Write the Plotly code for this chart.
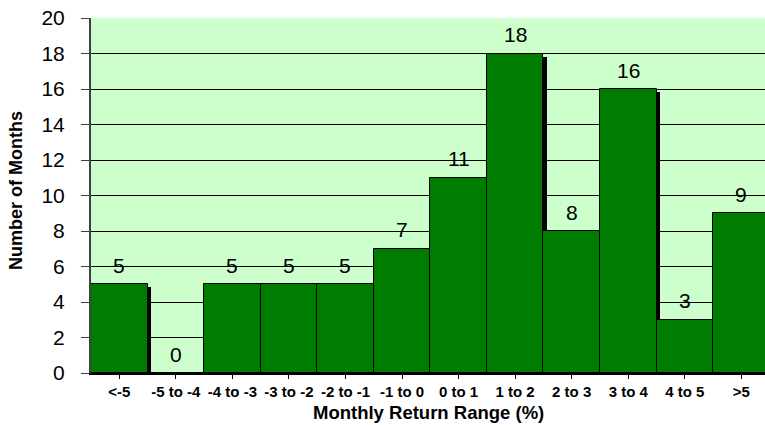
import plotly.graph_objects as go

categories = ["<-5", "-5 to -4", "-4 to -3", "-3 to -2", "-2 to -1", "-1 to 0",
              "0 to 1", "1 to 2", "2 to 3", "3 to 4", "4 to 5", ">5"]
months = [5, 0, 5, 5, 5, 7, 11, 18, 8, 16, 3, 9]
y_ticks = list(range(0, 21, 2))

FONT = "Liberation Sans, Arial, sans-serif"
BAR_GREEN = "#007C00"
BG_GREEN = "#CCFFCC"

idx = list(range(len(categories)))
shadow_drop = 0.17
shadow_vals = [max(v - shadow_drop, 0) for v in months]

fig = go.Figure()
# drop shadow (drawn first, covered by neighbouring taller bars)
fig.add_trace(go.Bar(
    x=idx, y=shadow_vals, width=1, offset=-0.5 + 0.068,
    marker=dict(color="black", line=dict(width=0)),
    hoverinfo="skip", showlegend=False,
))
fig.add_trace(go.Bar(
    x=idx, y=months, width=1, offset=-0.5,
    marker=dict(color=BAR_GREEN, line=dict(color="black", width=1)),
    showlegend=False,
))

W, H = 765, 425
L, R, T, B = 91, 0, 18, 52
pw = W - L - R
ph = H - T - B

annotations = []
for i, v in zip(idx, months):
    annotations.append(dict(
        x=i, y=v, xref="x", yref="y", text=str(v), showarrow=False,
        yanchor="middle", xanchor="center", yshift=19,
        font=dict(family=FONT, size=21, color="black"),
    ))

annotations.append(dict(
    text="<b>Number of Months</b>", textangle=-90, showarrow=False,
    xref="paper", yref="paper", x=(16 - L) / pw, y=(373 - 191) / ph,
    xanchor="center", yanchor="middle",
    font=dict(family=FONT, size=18, color="black"),
))
annotations.append(dict(
    text="<b>Monthly Return Range (%)</b>", showarrow=False,
    xref="paper", yref="paper", x=(428 - L) / pw, y=(373 - 412) / ph,
    xanchor="center", yanchor="middle",
    font=dict(family=FONT, size=18.5, color="black"),
))

cat_w = 56.55
fig.update_layout(
    width=W, height=H,
    margin=dict(l=L, r=R, t=T, b=B, pad=0),
    paper_bgcolor="white", plot_bgcolor=BG_GREEN,
    barmode="overlay", bargap=0,
    showlegend=False,
    annotations=annotations,
    xaxis=dict(
        tickmode="array", tickvals=idx, ticktext=[f"<b>{c}</b>" for c in categories],
        range=[-0.5, -0.5 + pw / cat_w],
        showline=True, linecolor="black", linewidth=2,
        ticks="outside", ticklen=4, tickcolor="black", tickwidth=1,
        tickson="boundaries", showgrid=False, zeroline=False,
        tickfont=dict(family=FONT, size=15, color="black"),
        ticklabelstandoff=0,
    ),
    yaxis=dict(
        range=[0, 20], tickmode="array", tickvals=y_ticks,
        showline=True, linecolor="#404040", linewidth=2,
        ticks="outside", ticklen=8, tickcolor="#404040", tickwidth=1,
        showgrid=True, gridcolor="black", gridwidth=1, zeroline=False,
        tickfont=dict(family=FONT, size=21, color="black"),
        ticklabelstandoff=12,
    ),
)

fig.write_html(
    "out.html",
    config={"displayModeBar": False},
    post_script="document.body.style.margin='0';document.body.style.padding='0';",
)
